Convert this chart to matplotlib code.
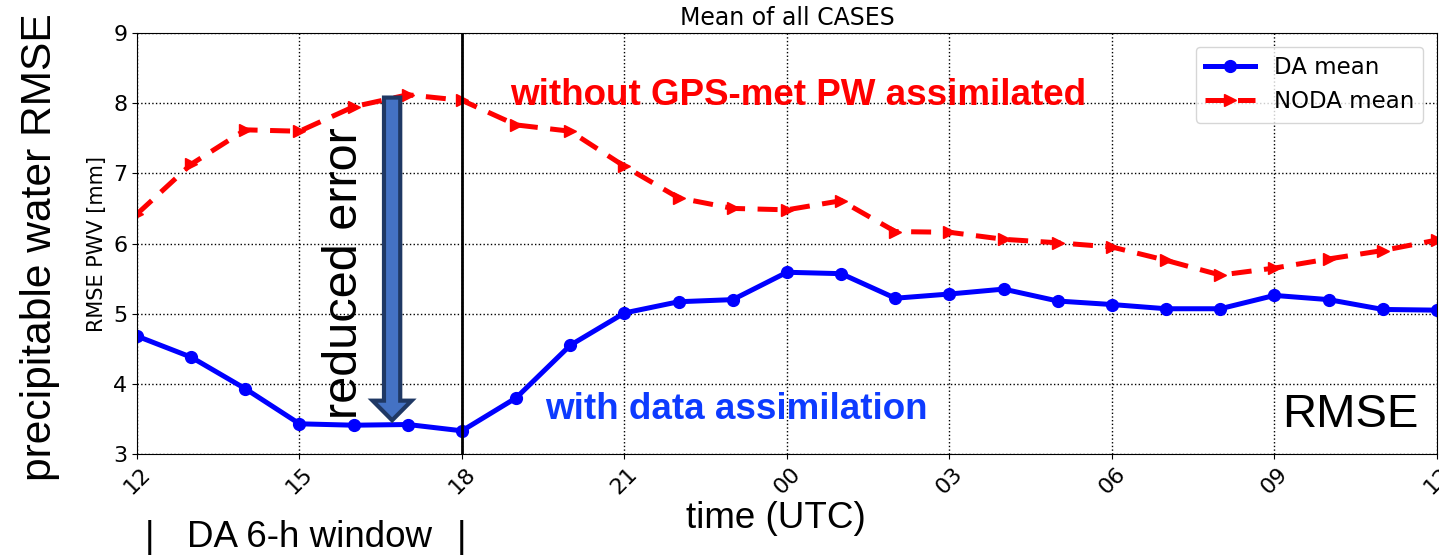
import matplotlib
matplotlib.use("Agg")
import matplotlib.pyplot as plt
from matplotlib.patches import FancyArrow

hours = list(range(25))
tick_pos = [0, 3, 6, 9, 12, 15, 18, 21, 24]
tick_labels = ["12", "15", "18", "21", "00", "03", "06", "09", "12"]

da_mean = [4.68, 4.38, 3.93, 3.43, 3.41, 3.42, 3.33, 3.80, 4.55, 5.01, 5.17, 5.20,
           5.59, 5.57, 5.22, 5.28, 5.35, 5.18, 5.13, 5.07, 5.07, 5.26, 5.20, 5.06, 5.05]
noda_mean = [6.42, 7.13, 7.62, 7.60, 7.95, 8.12, 8.04, 7.69, 7.60, 7.10, 6.65, 6.50,
             6.48, 6.61, 6.17, 6.16, 6.06, 6.01, 5.95, 5.76, 5.55, 5.65, 5.78, 5.90, 6.05]

fig = plt.figure(figsize=(14.39, 5.56), dpi=100)
ax = fig.add_axes([0.0952, 0.1835, 0.9034, 0.7571])

ax.plot(hours, da_mean, color="blue", marker="o", markersize=8.5, linewidth=3.6, label="DA mean")
ax.plot(hours, noda_mean, color="red", marker=">", markersize=8.5, linewidth=3.6,
        linestyle=(0, (4, 2.5)), label="NODA mean")
ax.axvline(6, color="black", linewidth=2)

ax.set_xlim(0, 24)
ax.set_ylim(3, 9)
ax.set_xticks(tick_pos)
ax.set_xticklabels(tick_labels, rotation=45, fontsize=16)
ax.tick_params(axis="y", labelsize=16)
ax.grid(True, linestyle=":", color="black", linewidth=1)
ax.set_title("Mean of all CASES", fontsize=17, pad=6)
ax.set_ylabel("RMSE PWV [mm]", fontsize=15, labelpad=4)
leg = ax.legend(loc="upper right", fontsize=16.5, handlelength=2.2,
                borderaxespad=0.6)

bold = dict(family=["Liberation Sans", "DejaVu Sans"], fontweight="bold")
ax.text(6.89, 8.11, "without GPS-met PW assimilated", color="red", fontsize=26.5,
        va="center", ha="left", **bold)
ax.text(7.53, 3.63, "with data assimilation", color="#0d3bff", fontsize=26.5,
        va="center", ha="left", **bold)
ax.text(21.14, 3.56, "RMSE", color="black", fontsize=34, va="center", ha="left",
        family=["Liberation Sans", "DejaVu Sans"])
ax.text(3.84, 5.58, "reduced error", color="black", fontsize=35, rotation=90,
        va="center", ha="center", family=["Liberation Sans", "DejaVu Sans"])

arrow = FancyArrow(4.71, 8.08, 0, -4.6, width=0.30, head_width=0.72, head_length=0.28,
                   length_includes_head=True, facecolor="#4472c4", edgecolor="#1f3864",
                   linewidth=3, zorder=5)
ax.add_patch(arrow)

fig.text(0.028, 0.556, "precipitable water RMSE", rotation=90, fontsize=30.6,
         va="center", ha="center", family=["Liberation Sans", "DejaVu Sans"])
fig.text(0.539, 0.068, "time (UTC)", fontsize=26.5, va="center", ha="center",
         family=["Liberation Sans", "DejaVu Sans"])
sans = ["Liberation Sans", "DejaVu Sans"]
fig.text(150 / 1439, 0.034, "|", fontsize=26.5, va="center", ha="center", family=sans)
fig.text(187 / 1439, 0.034, "DA 6-h window", fontsize=26.5, va="center", ha="left", family=sans)
fig.text(462 / 1439, 0.034, "|", fontsize=26.5, va="center", ha="center", family=sans)

fig.savefig("out.png", dpi=100)
